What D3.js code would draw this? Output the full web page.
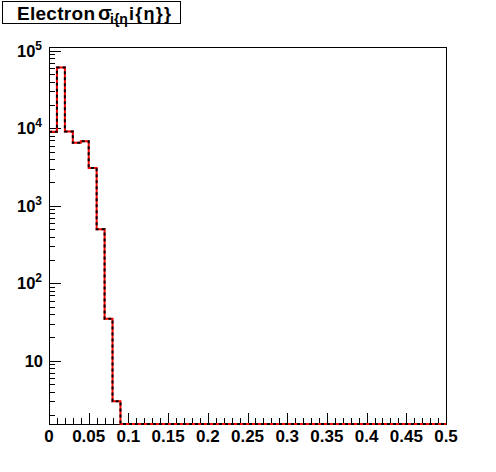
<!DOCTYPE html>
<html><head><meta charset="utf-8">
<script src="https://cdn.jsdelivr.net/npm/d3@7"></script>
<style>body{margin:0;background:#fff}svg{display:block}text{font-family:"Liberation Sans",Arial,sans-serif;font-weight:bold}</style>
</head><body><svg id="c" width="496" height="472"></svg>
<script>
// Data
const binEdges = d3.range(0, 0.5001, 0.01).map(v => +v.toFixed(2)); // 50 bins of width 0.01
const counts = [9000, 61000, 9100, 6500, 6800, 3080, 497, 35, 3,
  0,0,0,0,0,0,0,0,0,0,0, 0,0,0,0,0,0,0,0,0,0, 0,0,0,0,0,0,0,0,0,0, 0,0,0,0,0,0,0,0,0,0,0];
const xTicks = [0,0.05,0.1,0.15,0.2,0.25,0.3,0.35,0.4,0.45,0.5];
const xTickLabels = ["0","0.05","0.1","0.15","0.2","0.25","0.3","0.35","0.4","0.45","0.5"];
const yMajor = [10,100,1000,10000,100000];
const yLabelsBase = ["10","10","10","10","10"];
const yLabelsExp = ["","2","3","4","5"];

const svg = d3.select("#c");
const L=49, R=446, T=47, B=424;
const x = d3.scaleLinear().domain([0,0.5]).range([L,R]);
const y = d3.scaleLog().domain([1.53, 1.12e5]).range([B,T]);

// frame
svg.append("rect").attr("x",L).attr("y",T).attr("width",R-L).attr("height",B-T)
  .attr("fill","#fff").attr("stroke","#000").attr("stroke-width",1).attr("shape-rendering","crispEdges");

// x ticks
const xMinor = d3.range(0,51).map(i=>i*0.01);
const gx = svg.append("g").attr("shape-rendering","crispEdges");
gx.selectAll("line.mn").data(xMinor).join("line")
  .attr("x1",d=>Math.round(x(d))+0.5).attr("x2",d=>Math.round(x(d))+0.5)
  .attr("y1",B).attr("y2",d=> (Math.round(d*100)%5===0)? B-11 : B-6).attr("stroke","#000");
gx.selectAll("text").data(xTicks).join("text")
  .attr("x",d=>x(d)).attr("y",B+18).attr("text-anchor","middle").attr("font-size",17)
  .text((d,i)=>xTickLabels[i]);

// y ticks
const gy = svg.append("g").attr("shape-rendering","crispEdges");
const yMinor = [];
for (let e=0;e<=5;e++) for (let m=1;m<=9;m++){ const v=m*Math.pow(10,e); if(v>=1.53 && v<=1.12e5) yMinor.push(v); }
gy.selectAll("line").data(yMinor).join("line")
  .attr("y1",d=>Math.round(y(d))+0.5).attr("y2",d=>Math.round(y(d))+0.5)
  .attr("x1",L).attr("x2",d=> yMajor.includes(d)? L+12 : L+6).attr("stroke","#000");
const yl = svg.append("g").selectAll("text").data(yMajor).join("text")
  .attr("y",d=>y(d)+6).attr("text-anchor","end").attr("font-size",16.5);
yl.each(function(d,i){
  const t=d3.select(this);
  if(yLabelsExp[i]===""){ t.attr("x",L-6).text(yLabelsBase[i]); }
  else { t.attr("x",L-7);
    t.append("tspan").text(yLabelsBase[i]);
    t.append("tspan").attr("font-size",12).attr("dy",-7).text(yLabelsExp[i]); }
});

// histogram step path
const yMin = y.domain()[0];
const pts = [];
counts.forEach((c,i)=>{
  const v = Math.max(c, yMin);
  pts.push([x(binEdges[i]), y(v)]);
  pts.push([x(binEdges[i+1]), y(v)]);
});
const line = d3.line();
svg.append("path").attr("d",line(pts)).attr("fill","none").attr("stroke","#f00").attr("stroke-width",2);
svg.append("path").attr("d",line(pts)).attr("fill","none").attr("stroke","#000").attr("stroke-width",2).attr("stroke-dasharray","3,3");

// title box
svg.append("rect").attr("x",2.5).attr("y",1.5).attr("width",178).attr("height",22)
  .attr("fill","#fff").attr("stroke","#000").attr("stroke-width",1);
const tt = svg.append("g").attr("font-size",19);
tt.append("text").attr("x",17).attr("y",19.5).attr("textLength",78).text("Electron");
tt.append("text").attr("x",98).attr("y",19.5).attr("font-weight","normal").attr("font-size",20).text("σ");
tt.append("text").attr("x",110).attr("y",24).attr("font-size",14).text("i{η");
tt.append("text").attr("x",129).attr("y",19.5).attr("font-size",18).attr("textLength",42).text("i{η}}");
</script></body></html>
